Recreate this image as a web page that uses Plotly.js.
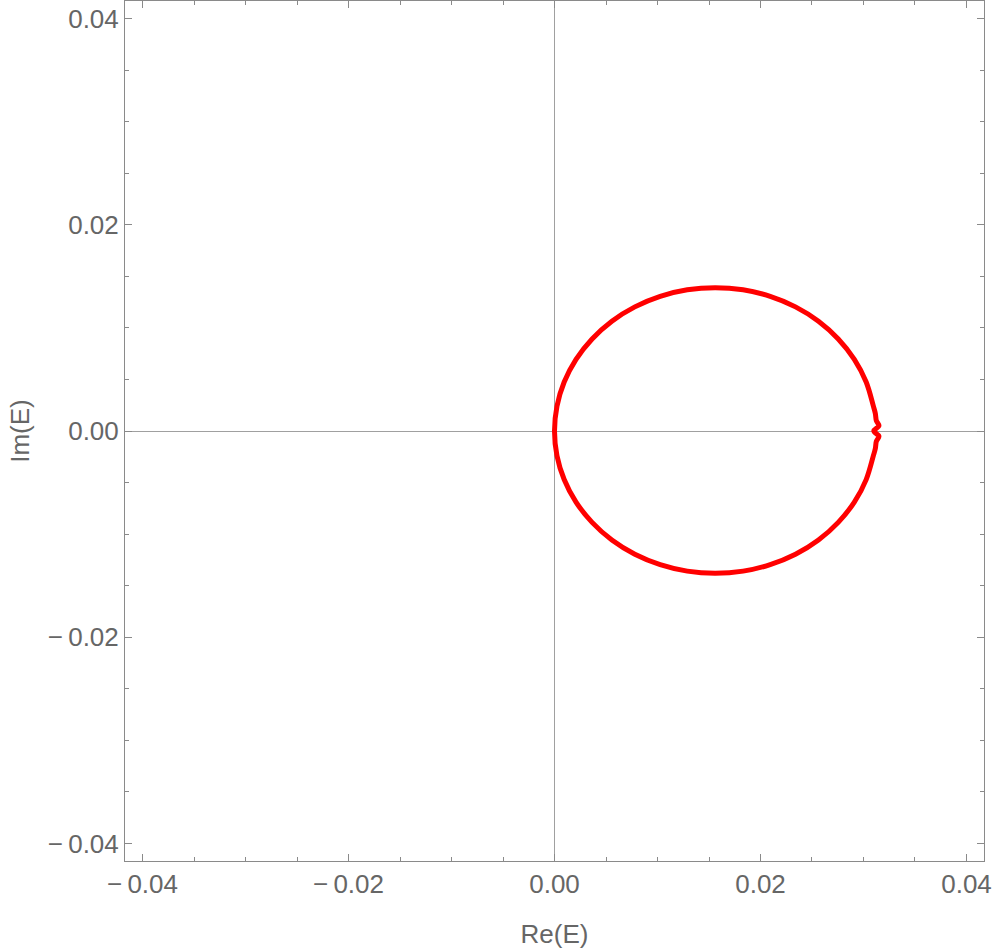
<!DOCTYPE html>
<html>
<head>
<meta charset="utf-8">
<script src="https://cdn.plot.ly/plotly-3.0.1.min.js"></script>
<style>
  html, body { margin: 0; padding: 0; background: #fff; }
  #plot { width: 996px; height: 949px; }
</style>
</head>
<body>
<div id="plot"></div>
<script>
// points, going round counter-clockwise from the right edge
const reE = [
    0.0310, 0.0315, 0.03125, 0.03115, 0.03096, 0.03026, 0.02911, 0.02755, 0.02563, 0.0234, 0.02094, 0.01831,
    0.0156, 0.01289, 0.01026, 0.0078, 0.00557, 0.00365, 0.00209, 0.00094, 0.00024,
    0.0, 0.00024, 0.00094, 0.00209, 0.00365, 0.00557, 0.0078, 0.01026, 0.01289,
    0.0156, 0.01831, 0.02094, 0.0234, 0.02563, 0.02755, 0.02911, 0.03026, 0.03096, 0.03115, 0.03125, 0.0315, 0.0310
];
const imE = [
    0.0, 0.0005, 0.0010, 0.0017, 0.00241, 0.00475, 0.00695, 0.00893, 0.01065, 0.01204, 0.01306, 0.01369,
    0.0139, 0.01369, 0.01306, 0.01204, 0.01065, 0.00893, 0.00695, 0.00475, 0.00241,
    0.0, -0.00239, -0.00471, -0.0069, -0.00886, -0.01057, -0.01195, -0.01296, -0.01359,
    -0.0138, -0.01359, -0.01296, -0.01195, -0.01057, -0.00886, -0.0069, -0.00471, -0.00239, -0.0017, -0.0010, -0.0005, 0.0
];

const axisRange = [-0.0417, 0.0417];
const tickValues = [-0.04, -0.02, 0.0, 0.02, 0.04];
const tickLabels = ['\u2212\u20090.04', '\u2212\u20090.02', '0.00', '0.02', '0.04'];

const frameColor = '#8a8a8a';
const textColor = '#666666';

function frameAxis(titleText) {
    return {
        range: axisRange,
        tickvals: tickValues,
        ticktext: tickLabels,
        ticks: 'inside',
        ticklen: 7,
        tickwidth: 1,
        tickcolor: frameColor,
        minor: { dtick: 0.005, tick0: 0, ticks: 'inside', ticklen: 4, tickwidth: 1, tickcolor: frameColor },
        showline: true,
        linecolor: frameColor,
        linewidth: 1,
        mirror: 'ticks',
        showgrid: false,
        zeroline: true,
        zerolinecolor: '#a0a0a0',
        zerolinewidth: 1,
        tickfont: { family: 'Liberation Sans, Arial, sans-serif', size: 26, color: textColor },
        title: { text: titleText, font: { family: 'Liberation Sans, Arial, sans-serif', size: 26, color: textColor } }
    };
}

var trace = {
    x: reE,
    y: imE,
    type: 'scatter',
    mode: 'lines',
    line: { color: '#ff0000', width: 5, shape: 'spline', smoothing: 1 },
    hoverinfo: 'skip'
};

var layout = {
    width: 996,
    height: 949,
    margin: { l: 125, r: 12, t: 1, b: 88 },
    paper_bgcolor: '#ffffff',
    plot_bgcolor: '#ffffff',
    showlegend: false,
    xaxis: frameAxis('Re(E)'),
    yaxis: frameAxis('Im(E)')
};
layout.xaxis.title.standoff = 27;
layout.yaxis.title.standoff = 10;

Plotly.newPlot('plot', [trace], layout, { displayModeBar: false, staticPlot: true });
</script>
</body>
</html>
